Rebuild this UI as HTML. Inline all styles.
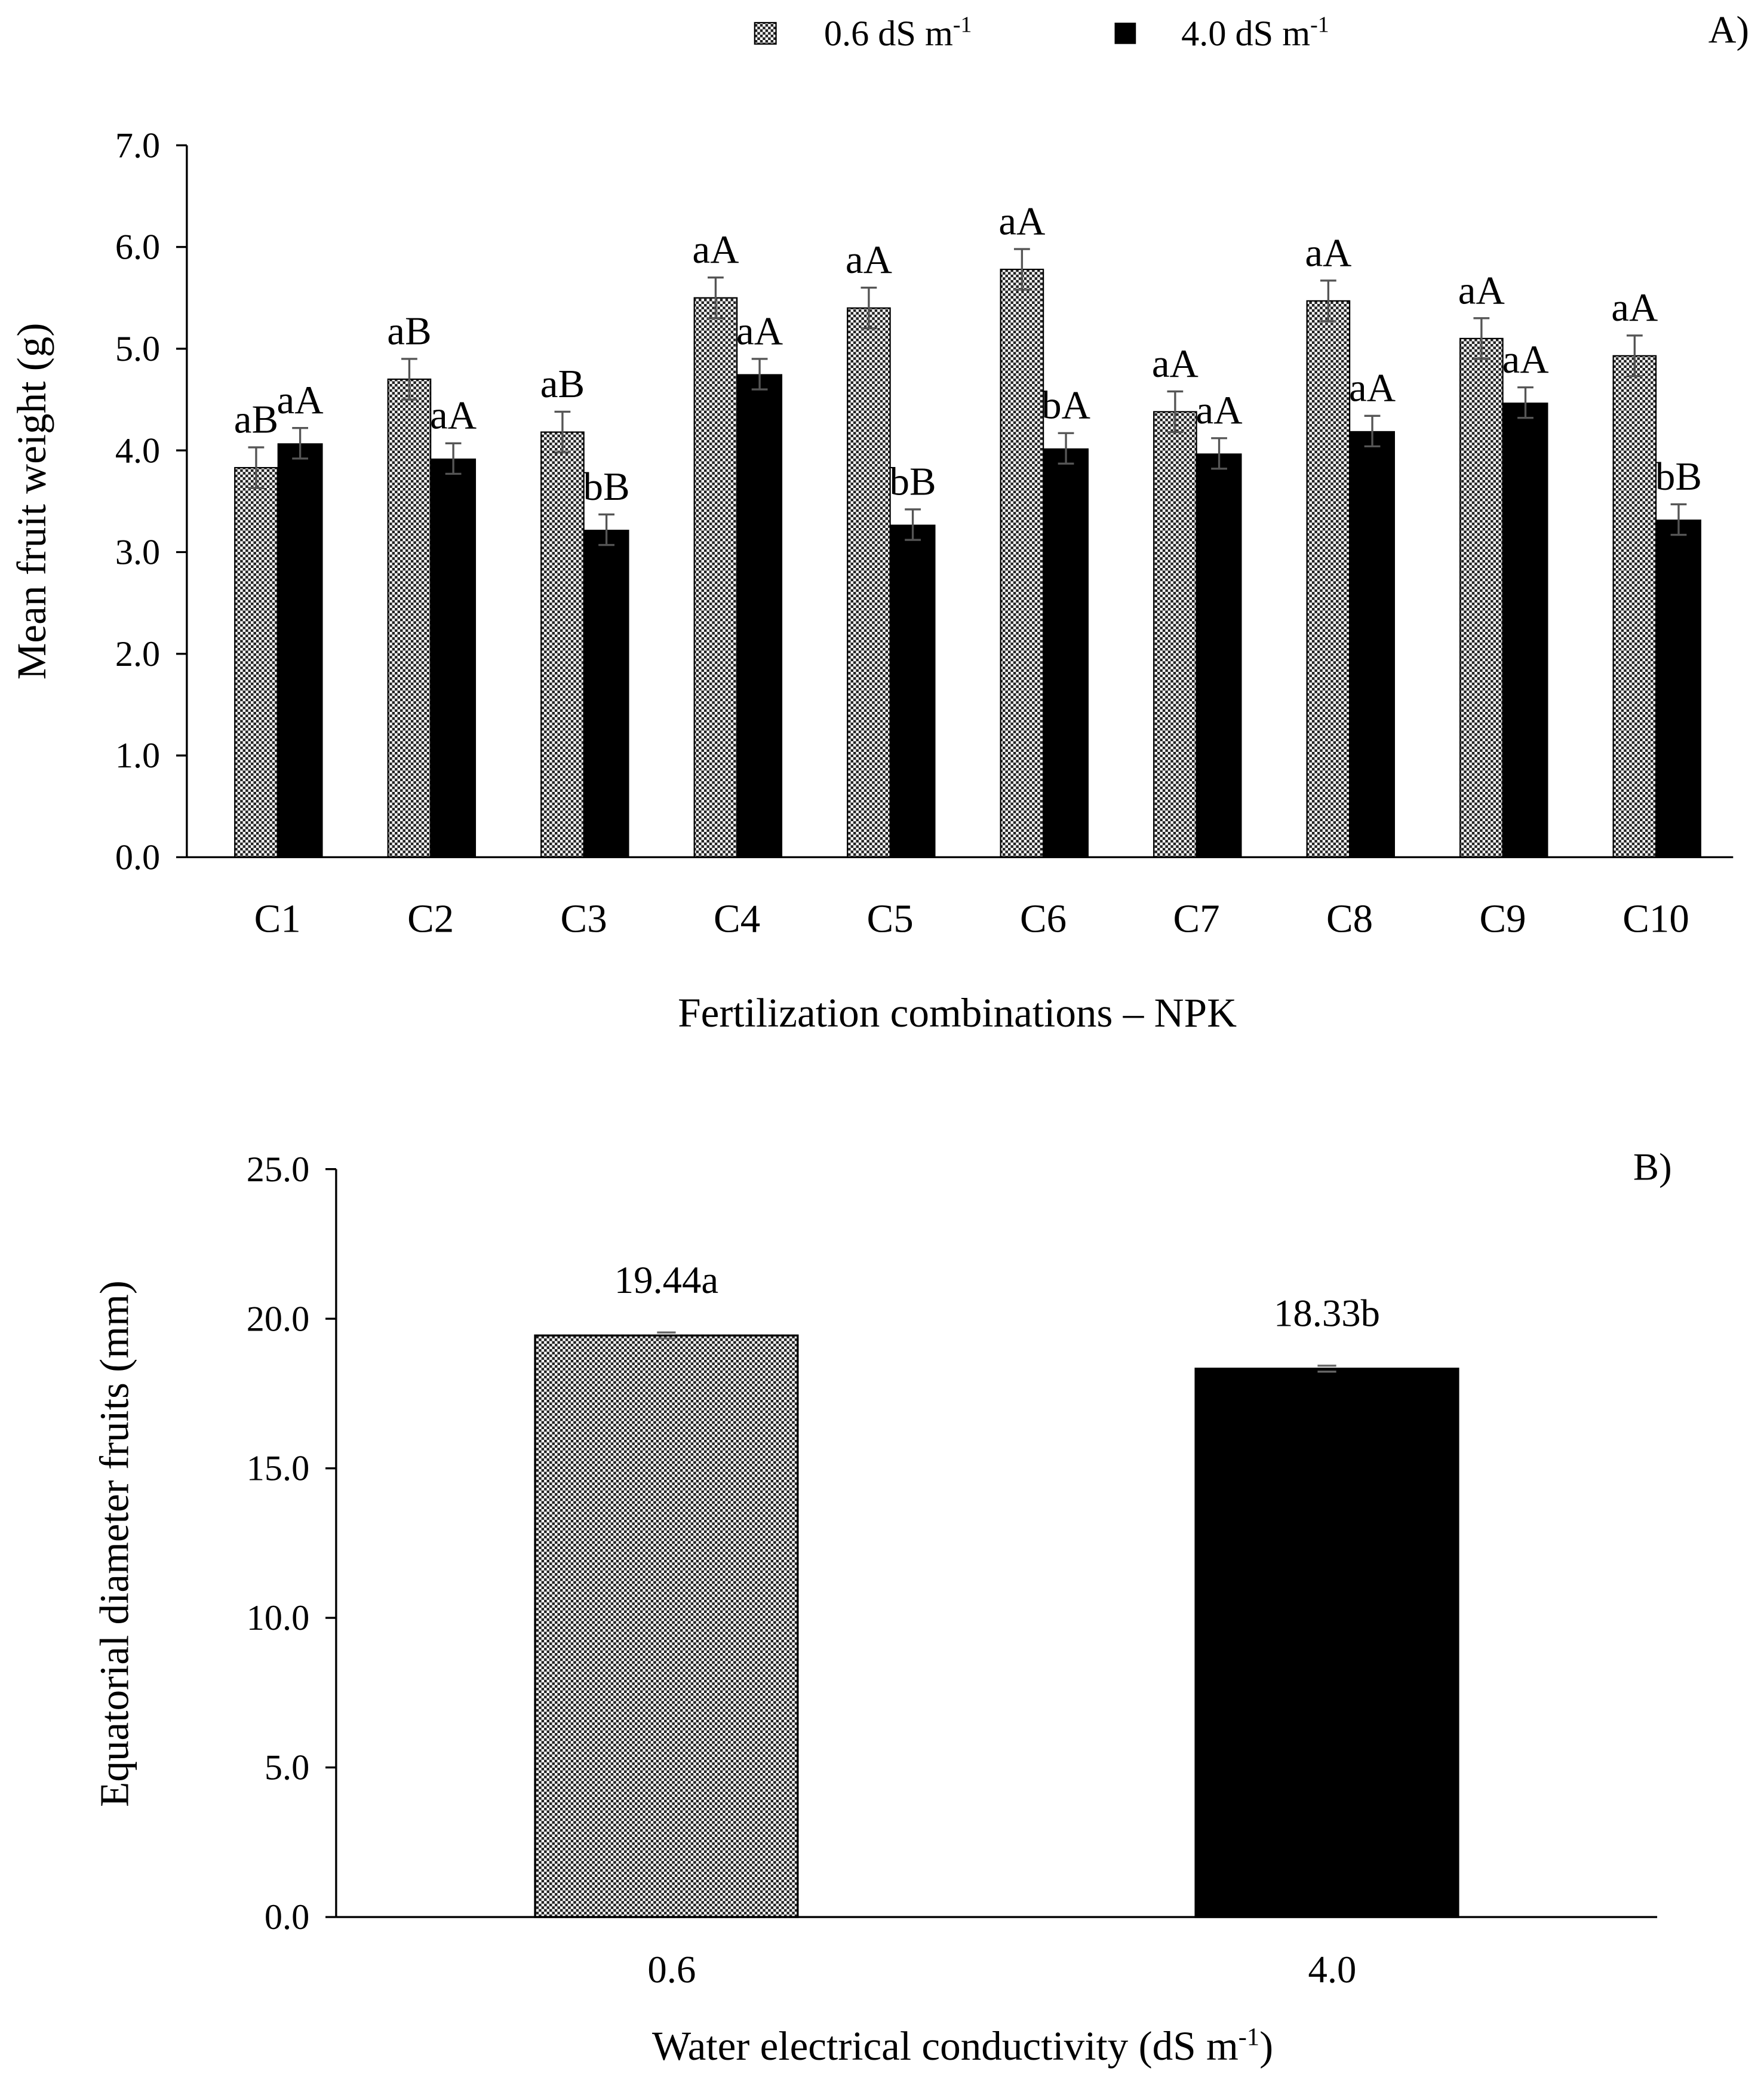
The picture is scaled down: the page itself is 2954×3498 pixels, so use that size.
<!DOCTYPE html>
<html><head><meta charset="utf-8"><style>
html,body{margin:0;padding:0;background:#fff;}
svg{display:block;font-family:"Liberation Serif",serif;}
</style></head><body>
<svg id="fig" width="2954" height="3498" viewBox="0 0 1323 1567" xmlns="http://www.w3.org/2000/svg">
<defs>
<pattern id="dots" width="4" height="4" patternUnits="userSpaceOnUse">
<rect width="4" height="4" fill="#fff"/>
<rect x="0" y="0" width="2" height="2" fill="#222"/>
<rect x="2" y="2" width="2" height="2" fill="#222"/>
</pattern>
</defs>
<g id="chartA"></g>
<g id="chartB"></g>
</svg>
<script>
const catsA=["C1","C2","C3","C4","C5","C6","C7","C8","C9","C10"];
const lowVals=[3.83,4.70,4.18,5.50,5.40,5.78,4.38,5.47,5.10,4.93];
const highVals=[4.07,3.92,3.22,4.75,3.27,4.02,3.97,4.19,4.47,3.32];
const lowErr=[0.20,0.20,0.20,0.20,0.20,0.20,0.20,0.20,0.20,0.20];
const highErr=[0.15,0.15,0.15,0.15,0.15,0.15,0.15,0.15,0.15,0.15];
const lowLabels=["aB","aB","aB","aA","aA","aA","aA","aA","aA","aA"];
const highLabels=["aA","aA","bB","aA","bB","bA","aA","aA","aA","bB"];
const ticksA=[0,1,2,3,4,5,6,7];
const catsB=["0.6","4.0"];
const valsB=[19.44,18.33];
const errB=[0.1,0.1];
const labelsB=["19.44a","18.33b"];
const ticksB=[0,5,10,15,20,25];

const NS="http://www.w3.org/2000/svg";
function mk(p,t,a,txt){const e=document.createElementNS(NS,t);for(const k in a)e.setAttribute(k,a[k]);if(txt!==undefined)e.textContent=txt;p.appendChild(e);return e;}

// Chart A
(function(){
const g=document.getElementById('chartA');
const x0=140,x1=1300,yTop=109,yBot=643,maxV=7;
const y=v=>yBot-(v/maxV)*(yBot-yTop);
const step=114.9;
const cx=i=>208+step*i;
const bw=32;
ticksA.forEach(t=>{
 let l=mk(g,'line',{x1:x0-8,x2:x0,y1:y(t),y2:y(t),stroke:'#000','stroke-width':1.5});
 
 
 let tx=mk(g,'text',{x:x0-20,y:y(t)+9,'font-size':27,'text-anchor':'end'},t.toFixed(1));
 
 
});
catsA.forEach((c,i)=>{
 const c0=cx(i);
 let b1=mk(g,'rect',{x:c0-bw,y:y(lowVals[i]),width:bw,height:yBot-y(lowVals[i]),fill:'url(#dots)',stroke:'#000','stroke-width':1});
 
 
 let b2=mk(g,'rect',{x:c0,y:y(highVals[i]),width:bw+2,height:yBot-y(highVals[i]),fill:'#000'});
 
 
 [[c0-bw/2,lowVals[i],lowErr[i],lowLabels[i]],[c0+bw/2+1,highVals[i],highErr[i],highLabels[i]]].forEach(([ex,v,e,lab])=>{
  const eg=mk(g,'g',{stroke:'#555','stroke-width':1.5});
  
  
  mk(eg,'line',{x1:ex,x2:ex,y1:y(v-e),y2:y(v+e)});
  mk(eg,'line',{x1:ex-6,x2:ex+6,y1:y(v-e),y2:y(v-e)});
  mk(eg,'line',{x1:ex-6,x2:ex+6,y1:y(v+e),y2:y(v+e)});
  let t=mk(g,'text',{x:ex,y:y(v+e)-11,'font-size':30,'text-anchor':'middle'},lab);
  
  
 });
 let t=mk(g,'text',{x:c0,y:699,'font-size':30,'text-anchor':'middle'},c);
 
 
});
let ax=mk(g,'line',{x1:x0,x2:x0,y1:yTop,y2:yBot,stroke:'#000','stroke-width':1.5});


let axx=mk(g,'line',{x1:x0,x2:x1,y1:yBot,y2:yBot,stroke:'#000','stroke-width':1.5});


let yt=mk(g,'text',{x:0,y:0,'font-size':31,'text-anchor':'middle',transform:'translate(34,376) rotate(-90)'},'Mean fruit weight (g)');


let xt=mk(g,'text',{x:718,y:770,'font-size':31,'text-anchor':'middle'},'Fertilization combinations – NPK');


let pl=mk(g,'text',{x:1312,y:32,'font-size':29,'text-anchor':'end'},'A)');


const lg=mk(g,'g',{});


mk(lg,'rect',{x:566,y:17,width:16,height:16,fill:'url(#dots)',stroke:'#000','stroke-width':1});
const t1=mk(lg,'text',{x:618,y:34,'font-size':27});
t1.innerHTML='0.6 dS m<tspan dy="-10" font-size="17">-1</tspan>';
mk(lg,'rect',{x:836,y:17,width:16,height:16,fill:'#000'});
const t2=mk(lg,'text',{x:886,y:34,'font-size':27});
t2.innerHTML='4.0 dS m<tspan dy="-10" font-size="17">-1</tspan>';
})();

// Chart B
(function(){
const g=document.getElementById('chartB');
const x0=252,x1=1243,yTop=877,yBot=1438,maxV=25;
const y=v=>yBot-(v/maxV)*(yBot-yTop);
const step=(x1-x0)/catsB.length;
const cx=i=>x0+step*(i+0.5);
const bw=197;
ticksB.forEach(t=>{
 let l=mk(g,'line',{x1:x0-8,x2:x0,y1:y(t),y2:y(t),stroke:'#000','stroke-width':1.5});
 
 
 let tx=mk(g,'text',{x:x0-20,y:y(t)+9,'font-size':27,'text-anchor':'end'},t.toFixed(1));
 
 
});
catsB.forEach((c,i)=>{
 const c0=cx(i);
 let b=mk(g,'rect',{x:c0-bw/2,y:y(valsB[i]),width:bw,height:yBot-y(valsB[i]),fill:i===0?'url(#dots)':'#000',stroke:'#000','stroke-width':1.5});
 
 
 const eg=mk(g,'g',{stroke:'#666','stroke-width':1.5});
 
 
 mk(eg,'line',{x1:c0-7,x2:c0+7,y1:y(valsB[i]+errB[i]),y2:y(valsB[i]+errB[i])});
 mk(eg,'line',{x1:c0-7,x2:c0+7,y1:y(valsB[i]-errB[i]),y2:y(valsB[i]-errB[i])});
 let t=mk(g,'text',{x:c0,y:y(valsB[i])-32,'font-size':29,'text-anchor':'middle'},labelsB[i]);
 
 
 let xl=mk(g,'text',{x:c0+4,y:1487,'font-size':29,'text-anchor':'middle'},c);
 
 
});
let ax=mk(g,'line',{x1:x0,x2:x0,y1:yTop,y2:yBot,stroke:'#000','stroke-width':1.5});


let axx=mk(g,'line',{x1:x0,x2:x1,y1:yBot,y2:yBot,stroke:'#000','stroke-width':1.5});


let yt=mk(g,'text',{x:0,y:0,'font-size':31,'text-anchor':'middle',transform:'translate(96,1158) rotate(-90)'},'Equatorial diameter fruits (mm)');


let xt=mk(g,'text',{x:722,y:1545,'font-size':31,'text-anchor':'middle'});
xt.innerHTML='Water electrical conductivity (dS m<tspan dy="-11" font-size="19">-1</tspan><tspan dy="11">)</tspan>';


let pl=mk(g,'text',{x:1254,y:885,'font-size':29,'text-anchor':'end'},'B)');


})();
</script>
</body></html>
